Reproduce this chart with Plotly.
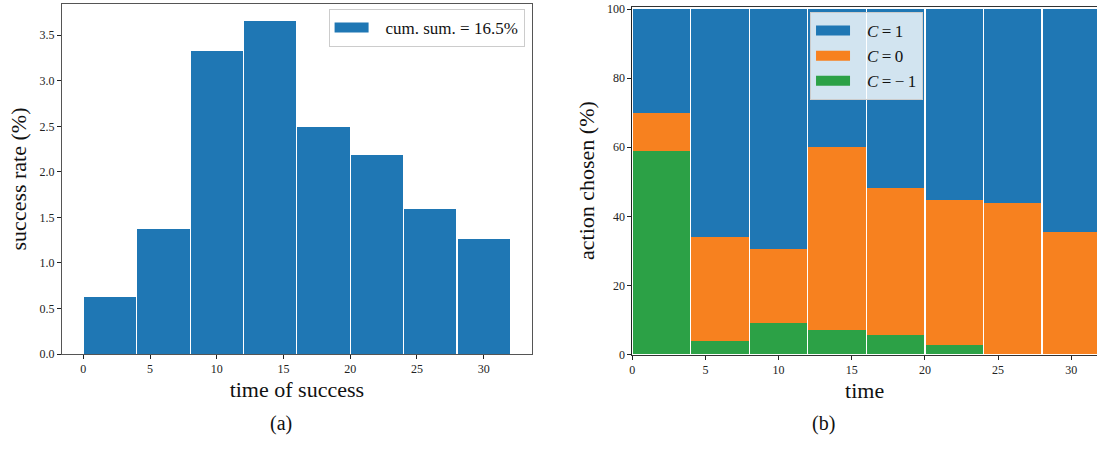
import plotly.graph_objects as go

# ---------------- data ----------------
bin_edges = [0, 4, 8, 12, 16, 20, 24, 28, 32]
success_rate = [0.63, 1.37, 3.33, 3.66, 2.49, 2.18, 1.59, 1.26]

action_c_minus1 = [59.0, 4.0, 9.0, 7.0, 5.6, 2.8, 0.0, 0.0]
action_c_0 = [11.0, 30.0, 21.4, 53.0, 42.6, 41.8, 44.0, 35.4]
action_c_1 = [30.0, 66.0, 69.6, 40.0, 51.8, 55.4, 56.0, 64.6]

x_ticks = [0, 5, 10, 15, 20, 25, 30]
left_y_ticks = [0.0, 0.5, 1.0, 1.5, 2.0, 2.5, 3.0, 3.5]
right_y_ticks = [0, 20, 40, 60, 80, 100]

series_names = {
    "C1": "<i>C</i>\u2009=\u20091",
    "C0": "<i>C</i>\u2009=\u20090",
    "Cm1": "<i>C</i>\u2009=\u2009\u2212\u20091",
}
colors = {"C1": "#1f77b4", "C0": "#f7811f", "Cm1": "#2ca146"}

# ---------------- derived ----------------
centers = [(a + b) / 2 for a, b in zip(bin_edges[:-1], bin_edges[1:])]
widths = [(b - a) - 0.08 for a, b in zip(bin_edges[:-1], bin_edges[1:])]
cum_sum = sum(success_rate)

FONT = "Liberation Serif, Times New Roman, serif"
GAP = "\u2002\u2009"  # spacing between legend swatch and label

fig = go.Figure()

# left panel histogram
fig.add_trace(go.Bar(
    x=centers, y=success_rate, width=widths,
    marker=dict(color=colors["C1"], line=dict(width=0)),
    xaxis="x", yaxis="y", showlegend=False,
))
fig.add_trace(go.Scatter(
    x=[None], y=[None], mode="lines",
    line=dict(color=colors["C1"], width=12),
    name=f"{GAP}cum. sum. = {cum_sum:.1f}%",
    xaxis="x", yaxis="y", legend="legend", showlegend=True,
))

# right panel stacked bars (bottom to top)
stack = [("Cm1", action_c_minus1), ("C0", action_c_0), ("C1", action_c_1)]
for key, vals in stack:
    fig.add_trace(go.Bar(
        x=centers, y=vals, width=widths,
        marker=dict(color=colors[key], line=dict(width=0)),
        xaxis="x2", yaxis="y2", showlegend=False, name=series_names[key],
    ))
# legend entries (top to bottom)
for key in ["C1", "C0", "Cm1"]:
    fig.add_trace(go.Scatter(
        x=[None], y=[None], mode="lines",
        line=dict(color=colors[key], width=12),
        name=GAP + series_names[key], xaxis="x2", yaxis="y2", legend="legend2",
        showlegend=True,
    ))

axis_common = dict(
    showgrid=False, zeroline=False, showline=True, linewidth=1,
    ticks="outside", ticklen=4, tickwidth=1, tickcolor="#222",
    tickfont=dict(family=FONT, size=12, color="#222"),
    automargin=False,
)

fig.update_layout(
    width=1097, height=452,
    margin=dict(l=0, r=0, t=0, b=0, autoexpand=False),
    paper_bgcolor="white", plot_bgcolor="white",
    barmode="stack",
    font=dict(family=FONT, color="#111"),
    xaxis=dict(
        domain=[0.0565, 0.4847], range=[-1.6, 33.6], anchor="y",
        tickvals=x_ticks, linecolor="#555", mirror=True,
        title=dict(text="time of success", font=dict(family=FONT, size=22), standoff=6),
        **axis_common,
    ),
    yaxis=dict(
        domain=[0.2168, 0.9912], range=[0, 3.843], anchor="x",
        tickvals=left_y_ticks, tickformat=".1f", linecolor="#555", mirror=True,
        title=dict(text="success rate (%)", font=dict(family=FONT, size=22), standoff=6),
        **axis_common,
    ),
    xaxis2=dict(
        domain=[0.5764, 1.0], range=[0, 31.76], anchor="y2",
        tickvals=x_ticks, linecolor="#333", mirror=True,
        title=dict(text="time", font=dict(family=FONT, size=22), standoff=6),
        **axis_common,
    ),
    yaxis2=dict(
        domain=[0.2157, 0.9852], range=[0, 100.7], anchor="x2",
        tickvals=right_y_ticks, linecolor="#222", mirror=False,
        title=dict(text="action chosen (%)", font=dict(family=FONT, size=22), standoff=6),
        **axis_common,
    ),
    legend=dict(
        x=0.4782, xanchor="right", y=0.980, yanchor="top",
        bgcolor="white", bordercolor="#cccccc", borderwidth=1,
        font=dict(family=FONT, size=17, color="#111"), itemwidth=34,
    ),
    legend2=dict(
        x=0.7384, xanchor="left", y=0.9735, yanchor="top",
        bgcolor="rgba(255,255,255,0.8)", bordercolor="#cccccc", borderwidth=1,
        font=dict(family=FONT, size=17, color="#111"), itemwidth=34,
        traceorder="normal",
    ),
    annotations=[
        dict(text="(a)", x=0.2443, y=0.0332, xref="paper", yref="paper",
             showarrow=False, font=dict(family=FONT, size=20, color="#111")),
        dict(text="(b)", x=0.763, y=0.0332, xref="paper", yref="paper",
             showarrow=False, font=dict(family=FONT, size=20, color="#111")),
    ],
)

fig.write_html(
    "out.html",
    config={"displayModeBar": False},
    post_script="document.body.style.margin='0';",
)
